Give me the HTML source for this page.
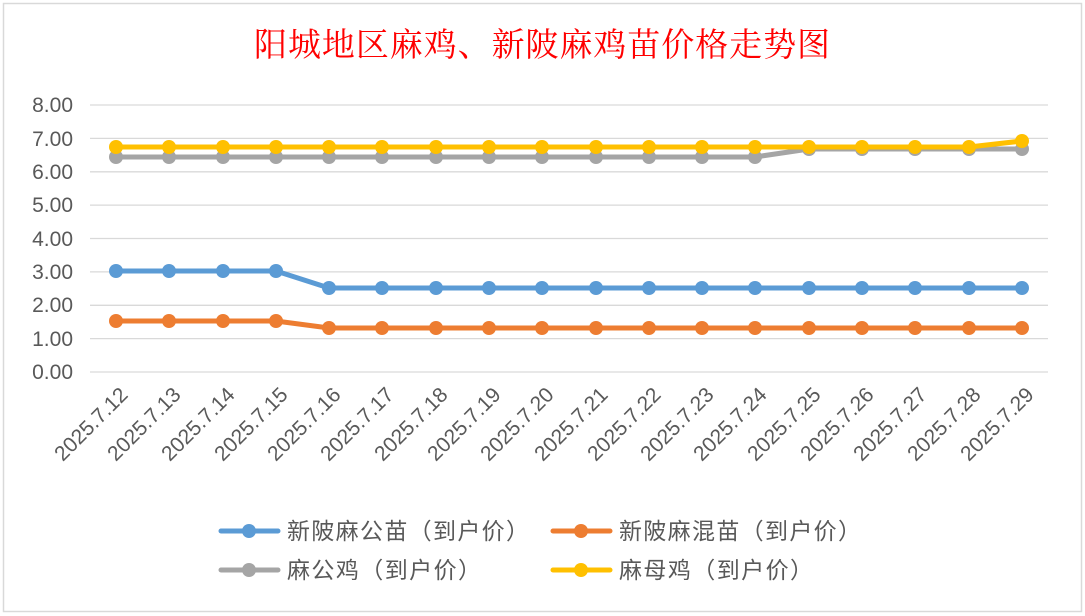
<!DOCTYPE html>
<html><head><meta charset="utf-8"><style>
body{margin:0;background:#fff}
svg{display:block}
text{font-family:"Liberation Sans","Noto Sans CJK SC",sans-serif}
</style></head><body>
<svg width="1085" height="616" viewBox="0 0 1085 616" xmlns="http://www.w3.org/2000/svg">
<rect x="0" y="0" width="1085" height="616" fill="#fff"/>
<rect x="3.5" y="3.5" width="1078" height="608" fill="#fff" stroke="#d9d9d9" stroke-width="1.5"/>
<text x="542" y="56" text-anchor="middle" fill="#ff0000" font-size="33" textLength="576" style="font-family:'Noto Serif CJK SC','Liberation Serif',serif">阳城地区麻鸡、新陂麻鸡苗价格走势图</text>
<g stroke="#d9d9d9" stroke-width="1.3">
<line x1="90" x2="1048" y1="105" y2="105"/><line x1="90" x2="1048" y1="138.4" y2="138.4"/>
<line x1="90" x2="1048" y1="171.8" y2="171.8"/><line x1="90" x2="1048" y1="205.1" y2="205.1"/>
<line x1="90" x2="1048" y1="238.5" y2="238.5"/><line x1="90" x2="1048" y1="271.9" y2="271.9"/>
<line x1="90" x2="1048" y1="305.3" y2="305.3"/><line x1="90" x2="1048" y1="338.6" y2="338.6"/>
<line x1="90" x2="1048" y1="372" y2="372"/>
</g>
<g fill="#595959" font-size="21" text-anchor="end">
<text x="73" y="112">8.00</text><text x="73" y="146">7.00</text><text x="73" y="179">6.00</text>
<text x="73" y="212">5.00</text><text x="73" y="246">4.00</text><text x="73" y="279">3.00</text>
<text x="73" y="312">2.00</text><text x="73" y="346">1.00</text><text x="73" y="379">0.00</text>
</g>
<g fill="#595959" font-size="21" text-anchor="end">
<text transform="translate(129,396) rotate(-45)">2025.7.12</text>
<text transform="translate(182,396) rotate(-45)">2025.7.13</text>
<text transform="translate(236,396) rotate(-45)">2025.7.14</text>
<text transform="translate(289,396) rotate(-45)">2025.7.15</text>
<text transform="translate(342,396) rotate(-45)">2025.7.16</text>
<text transform="translate(395,396) rotate(-45)">2025.7.17</text>
<text transform="translate(449,396) rotate(-45)">2025.7.18</text>
<text transform="translate(502,396) rotate(-45)">2025.7.19</text>
<text transform="translate(555,396) rotate(-45)">2025.7.20</text>
<text transform="translate(609,396) rotate(-45)">2025.7.21</text>
<text transform="translate(662,396) rotate(-45)">2025.7.22</text>
<text transform="translate(715,396) rotate(-45)">2025.7.23</text>
<text transform="translate(768,396) rotate(-45)">2025.7.24</text>
<text transform="translate(822,396) rotate(-45)">2025.7.25</text>
<text transform="translate(875,396) rotate(-45)">2025.7.26</text>
<text transform="translate(928,396) rotate(-45)">2025.7.27</text>
<text transform="translate(982,396) rotate(-45)">2025.7.28</text>
<text transform="translate(1035,396) rotate(-45)">2025.7.29</text>
</g>
<g stroke="#a5a5a5" fill="#a5a5a5">
<polyline fill="none" stroke-width="5" points="116,157 169,157 223,157 276,157 329,157 382,157 436,157 489,157 542,157 596,157 649,157 702,157 755,157 809,149 862,149 915,149 969,149 1022,149"/>
<g stroke="none">
<circle cx="116" cy="157" r="7"/><circle cx="169" cy="157" r="7"/><circle cx="223" cy="157" r="7"/><circle cx="276" cy="157" r="7"/><circle cx="329" cy="157" r="7"/><circle cx="382" cy="157" r="7"/><circle cx="436" cy="157" r="7"/><circle cx="489" cy="157" r="7"/><circle cx="542" cy="157" r="7"/><circle cx="596" cy="157" r="7"/><circle cx="649" cy="157" r="7"/><circle cx="702" cy="157" r="7"/><circle cx="755" cy="157" r="7"/><circle cx="809" cy="149" r="7"/><circle cx="862" cy="149" r="7"/><circle cx="915" cy="149" r="7"/><circle cx="969" cy="149" r="7"/><circle cx="1022" cy="149" r="7"/>
</g></g>
<g stroke="#ffc000" fill="#ffc000">
<polyline fill="none" stroke-width="5" points="116,147 169,147 223,147 276,147 329,147 382,147 436,147 489,147 542,147 596,147 649,147 702,147 755,147 809,147 862,147 915,147 969,147 1022,141"/>
<g stroke="none">
<circle cx="116" cy="147" r="7"/><circle cx="169" cy="147" r="7"/><circle cx="223" cy="147" r="7"/><circle cx="276" cy="147" r="7"/><circle cx="329" cy="147" r="7"/><circle cx="382" cy="147" r="7"/><circle cx="436" cy="147" r="7"/><circle cx="489" cy="147" r="7"/><circle cx="542" cy="147" r="7"/><circle cx="596" cy="147" r="7"/><circle cx="649" cy="147" r="7"/><circle cx="702" cy="147" r="7"/><circle cx="755" cy="147" r="7"/><circle cx="809" cy="147" r="7"/><circle cx="862" cy="147" r="7"/><circle cx="915" cy="147" r="7"/><circle cx="969" cy="147" r="7"/><circle cx="1022" cy="141" r="7"/>
</g></g>
<g stroke="#5b9bd5" fill="#5b9bd5">
<polyline fill="none" stroke-width="5" points="116,271 169,271 223,271 276,271 329,288 382,288 436,288 489,288 542,288 596,288 649,288 702,288 755,288 809,288 862,288 915,288 969,288 1022,288"/>
<g stroke="none">
<circle cx="116" cy="271" r="7"/><circle cx="169" cy="271" r="7"/><circle cx="223" cy="271" r="7"/><circle cx="276" cy="271" r="7"/><circle cx="329" cy="288" r="7"/><circle cx="382" cy="288" r="7"/><circle cx="436" cy="288" r="7"/><circle cx="489" cy="288" r="7"/><circle cx="542" cy="288" r="7"/><circle cx="596" cy="288" r="7"/><circle cx="649" cy="288" r="7"/><circle cx="702" cy="288" r="7"/><circle cx="755" cy="288" r="7"/><circle cx="809" cy="288" r="7"/><circle cx="862" cy="288" r="7"/><circle cx="915" cy="288" r="7"/><circle cx="969" cy="288" r="7"/><circle cx="1022" cy="288" r="7"/>
</g></g>
<g stroke="#ed7d31" fill="#ed7d31">
<polyline fill="none" stroke-width="5" points="116,321 169,321 223,321 276,321 329,328 382,328 436,328 489,328 542,328 596,328 649,328 702,328 755,328 809,328 862,328 915,328 969,328 1022,328"/>
<g stroke="none">
<circle cx="116" cy="321" r="7"/><circle cx="169" cy="321" r="7"/><circle cx="223" cy="321" r="7"/><circle cx="276" cy="321" r="7"/><circle cx="329" cy="328" r="7"/><circle cx="382" cy="328" r="7"/><circle cx="436" cy="328" r="7"/><circle cx="489" cy="328" r="7"/><circle cx="542" cy="328" r="7"/><circle cx="596" cy="328" r="7"/><circle cx="649" cy="328" r="7"/><circle cx="702" cy="328" r="7"/><circle cx="755" cy="328" r="7"/><circle cx="809" cy="328" r="7"/><circle cx="862" cy="328" r="7"/><circle cx="915" cy="328" r="7"/><circle cx="969" cy="328" r="7"/><circle cx="1022" cy="328" r="7"/>
</g></g>
<g stroke-width="5" stroke-linecap="round">
<line x1="221" x2="278" y1="531" y2="531" stroke="#5b9bd5"/><circle cx="249" cy="531" r="7" fill="#5b9bd5"/>
<line x1="553" x2="610" y1="531" y2="531" stroke="#ed7d31"/><circle cx="581" cy="531" r="7" fill="#ed7d31"/>
<line x1="221" x2="278" y1="570" y2="570" stroke="#a5a5a5"/><circle cx="249" cy="570" r="7" fill="#a5a5a5"/>
<line x1="553" x2="610" y1="570" y2="570" stroke="#ffc000"/><circle cx="581" cy="570" r="7" fill="#ffc000"/>
</g>
<g fill="#595959" font-size="23">
<text x="287" y="539" textLength="242">新陂麻公苗（到户价）</text>
<text x="619" y="539" textLength="242">新陂麻混苗（到户价）</text>
<text x="287" y="578" textLength="194">麻公鸡（到户价）</text>
<text x="619" y="578" textLength="194">麻母鸡（到户价）</text>
</g>
</svg>
</body></html>
